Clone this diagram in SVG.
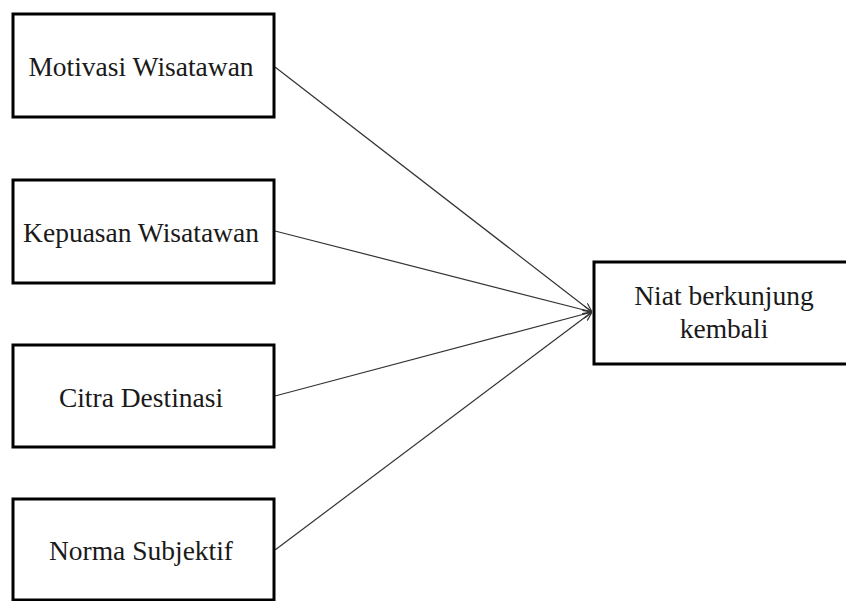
<svg xmlns="http://www.w3.org/2000/svg" width="846" height="601" viewBox="0 0 846 601">
<style>
.box{fill:#fff;stroke:#000;stroke-width:3}
.t{font-family:"Liberation Serif","Times New Roman",serif;font-size:27.5px;fill:#1a1a1a;text-anchor:middle}
.c{stroke:#333;stroke-width:1.2;fill:none;marker-end:url(#ah)}
</style>
<defs>
<marker id="ah" viewBox="0 0 10 10" refX="10" refY="5" markerWidth="9" markerHeight="9" markerUnits="userSpaceOnUse" orient="auto">
<path d="M0,0.5 L10,5 L0,9.5" fill="none" stroke="#333" stroke-width="1.3"/>
</marker>
</defs>
<rect width="846" height="601" fill="#fff"/>
<g id="connectors">
<line class="c" x1="275" y1="67" x2="592" y2="312"/>
<line class="c" x1="275" y1="231" x2="592" y2="312"/>
<line class="c" x1="275" y1="396" x2="592" y2="312"/>
<line class="c" x1="275" y1="550" x2="592" y2="312"/>
</g>
<g id="motivasi">
<rect class="box" x="13" y="14" width="261" height="103"/>
<text class="t" x="141" y="76">Motivasi Wisatawan</text>
</g>
<g id="kepuasan">
<rect class="box" x="13" y="180" width="261" height="103"/>
<text class="t" x="141" y="242">Kepuasan Wisatawan</text>
</g>
<g id="citra">
<rect class="box" x="13" y="345" width="261" height="102"/>
<text class="t" x="141" y="407">Citra Destinasi</text>
</g>
<g id="norma">
<rect class="box" x="13" y="499" width="261" height="101"/>
<text class="t" x="141" y="560">Norma Subjektif</text>
</g>
<g id="niat">
<rect class="box" x="594" y="262" width="270" height="102"/>
<text class="t" x="724" y="305">Niat berkunjung</text>
<text class="t" x="724" y="338">kembali</text>
</g>
</svg>
